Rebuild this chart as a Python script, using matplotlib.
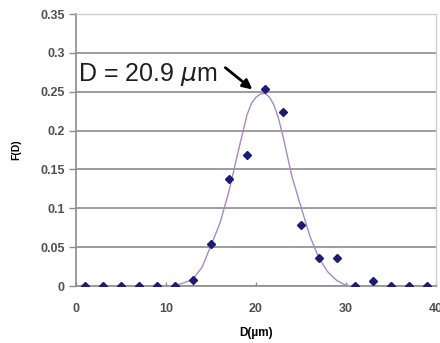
import matplotlib.pyplot as plt
from matplotlib.ticker import FormatStrFormatter

# measured points
D_pts = [1, 3, 5, 7, 9, 11, 13, 15, 17, 19, 21, 23, 25, 27, 29, 31, 33, 35, 37, 39]
F_pts = [0, 0, 0, 0, 0, 0, 0.008, 0.054, 0.138, 0.169, 0.254, 0.224, 0.078, 0.036, 0.036, 0, 0.006, 0, 0, 0]

# fitted curve
D_fit = [0, 9, 10, 11, 12, 13, 14, 15, 16, 17, 18, 19, 19.5, 20, 20.5, 21, 21.5, 22, 22.5,
         23, 24, 25, 26, 27, 28, 29, 30, 31, 40]
F_fit = [0, 0, 0, 0.001, 0.004, 0.009, 0.024, 0.052, 0.081, 0.122, 0.172, 0.220, 0.235, 0.243,
         0.247, 0.248, 0.243, 0.233, 0.216, 0.193, 0.141, 0.102, 0.064, 0.036, 0.018, 0.007,
         0.001, 0, 0]

peak_label = r'D = 20.9 $\mu$m'
label_pos = (0.2, 0.272)
arrow_tip = (19.6, 0.253)
arrow_tail = (16.6, 0.281)

tick_col = '#505050'

fig = plt.figure(figsize=(4.4, 3.43), dpi=100)
ax = fig.add_axes([0.1727, 0.166, 0.818, 0.793])

ax.set_axisbelow(True)
ax.yaxis.grid(True, color='#8c8c8c', lw=1.2)
ax.plot(D_fit, F_fit, color='#a888c8', lw=1.0, zorder=3)
ax.plot(D_pts, F_pts, 'D', color='#1c1c78', ms=4, zorder=4)

ax.set_xlim(0, 40)
ax.set_ylim(0, 0.35)
ax.set_xticks([0, 10, 20, 30, 40])
ax.set_yticks([0, 0.05, 0.1, 0.15, 0.2, 0.25, 0.3, 0.35])
ax.yaxis.set_major_formatter(FormatStrFormatter('%g'))

ax.tick_params(axis='y', direction='out', length=5, width=1, color='#8c8c8c', pad=3,
               labelsize=9, labelcolor=tick_col)
ax.tick_params(axis='x', direction='in', length=3, width=1, color='#8c8c8c', pad=12,
               labelsize=9, labelcolor=tick_col)
for t in ax.get_xticklabels() + ax.get_yticklabels():
    t.set_fontweight('bold')
    t.set_family('Liberation Sans')

for s in ['left', 'bottom']:
    ax.spines[s].set_color('#8c8c8c')
    ax.spines[s].set_linewidth(1.2)
for s in ['top', 'right']:
    ax.spines[s].set_color('#cfcfcf')
    ax.spines[s].set_linewidth(1.0)

ax.set_xlabel('D(µm)', fontsize=8.5, fontweight='bold', family='Liberation Sans', labelpad=9)
ax.set_ylabel('F(D)', fontsize=7.5, fontweight='bold', family='Liberation Sans', labelpad=14)

ax.text(*label_pos, peak_label, fontsize=18, family='Liberation Sans', color='#202020',
        ha='left', va='center', zorder=5)
ax.annotate('', xy=arrow_tip, xytext=arrow_tail,
            arrowprops=dict(arrowstyle='-|>', color='black', lw=2, mutation_scale=14,
                            shrinkA=0, shrinkB=0))

fig.savefig('out.png', dpi=100)
